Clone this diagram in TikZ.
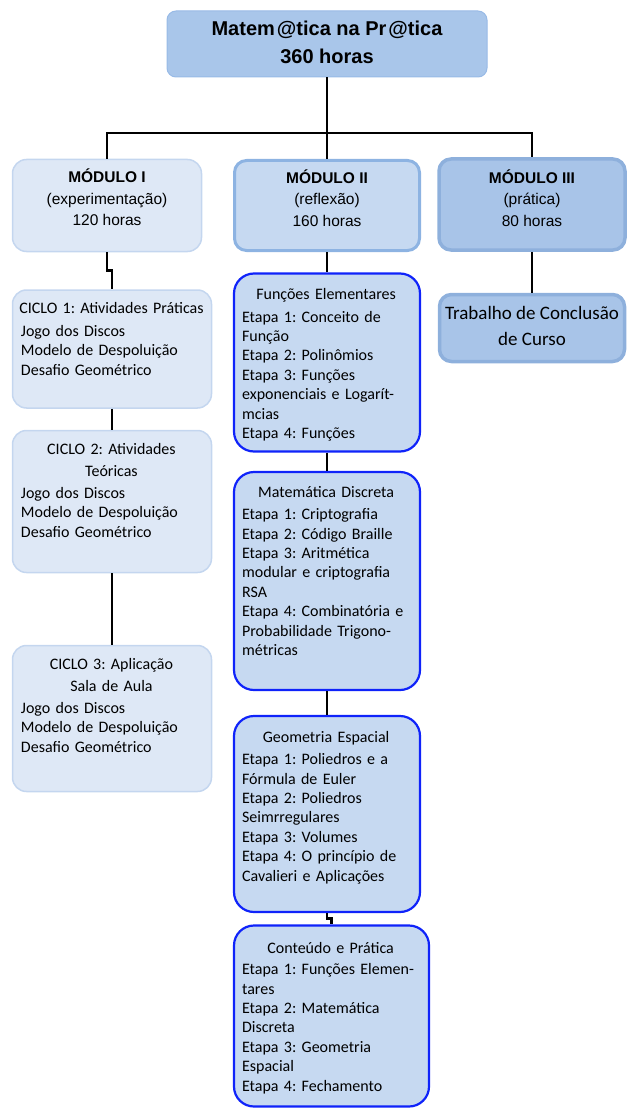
\documentclass[tikz,border=0pt]{standalone}
\usepackage{fontspec}
\setmainfont{Carlito}
\newfontfamily\arialf{Liberation Sans}
\usetikzlibrary{calc}
\frenchspacing
\definecolor{lightfill}{RGB}{222,232,246}
\definecolor{lightdraw}{RGB}{196,214,239}
\definecolor{midfill}{RGB}{198,217,241}
\definecolor{middraw}{RGB}{141,179,226}
\definecolor{darkfill}{RGB}{168,196,232}
\definecolor{darkdraw}{RGB}{142,176,220}
\definecolor{topfill}{RGB}{169,198,234}
\definecolor{topdraw}{RGB}{152,186,230}
\definecolor{bluedraw}{RGB}{15,35,250}
\newcommand\ctitle[1]{\makebox[\linewidth][c]{#1}}
\newcommand\fl{\rule{0pt}{14pt}}
\newcommand\fm{\rule{0pt}{16pt}}
\tikzset{
  conn/.style={draw=black, line width=2.7pt},
  lightbox/.style={rectangle, rounded corners=14pt, fill=lightfill, draw=lightdraw, line width=1.5pt, inner sep=0pt},
  modbox/.style={rectangle, rounded corners=12pt, fill=midfill, draw=middraw, line width=3pt, inner sep=0pt},
  darkbox/.style={rectangle, rounded corners=12pt, fill=darkfill, draw=darkdraw, line width=3.5pt, inner sep=0pt},
  bluebox/.style={rectangle, rounded corners=20pt, fill=midfill, draw=bluedraw, line width=2.2pt, inner sep=0pt},
  bodytxt/.style={anchor=north west, inner sep=0pt, align=left, font=\fontsize{16}{19.4}\selectfont},
  modtxt/.style={anchor=north, inner sep=0pt, align=center, font=\arialf\fontsize{15.5}{21.5}\selectfont},
}
\begin{document}
\begin{tikzpicture}[x=1pt,y=-1pt]
\useasboundingbox (0,0) rectangle (627,1110);
% boxes
\node[rectangle, rounded corners=9pt, fill=topfill, draw=topdraw, line width=1pt,
      minimum width=320pt, minimum height=66pt, inner sep=0pt] (top) at (327,44) {};
\node[lightbox, minimum width=189pt, minimum height=92pt] (m1) at (107,205.5) {};
\node[modbox, minimum width=185pt, minimum height=90pt] (m2) at (327,205.5) {};
\node[darkbox, minimum width=186pt, minimum height=91pt] (m3) at (532,204.5) {};

\node[lightbox, minimum width=199pt, minimum height=118pt] (c1) at (112,349) {};
\node[lightbox, minimum width=199pt, minimum height=142pt] (c2) at (112,501.5) {};
\node[lightbox, minimum width=199pt, minimum height=146pt] (c3) at (112,718.5) {};

\node[bluebox, minimum width=186pt, minimum height=178pt] (f1) at (327,362.5) {};
\node[bluebox, minimum width=186pt, minimum height=218pt] (f2) at (327,581) {};
\node[bluebox, minimum width=186pt, minimum height=196pt] (f3) at (327,814) {};
\node[bluebox, minimum width=195pt, minimum height=181pt] (f4) at (331.5,1016) {};

\node[darkbox, minimum width=185pt, minimum height=67pt] (tcc) at (532,328) {};

% texts
\node[anchor=north, inner sep=0pt, align=center,
      font=\arialf\bfseries\fontsize{20}{28}\selectfont] (topt) at ([yshift=-9pt]top.north)
      {\fm Matem\kern2pt@tica na Pr\kern2pt@tica\\360 horas};
\node[modtxt] (m1t) at ([yshift=-8pt]m1.north) {\fm\textbf{MÓDULO I}\\(experimentação)\\120 horas};
\node[modtxt] (m2t) at ([yshift=-8pt]m2.north) {\fm\textbf{MÓDULO II}\\(reflexão)\\160 horas};
\node[modtxt] (m3t) at ([yshift=-10pt]m3.north) {\fm\textbf{MÓDULO III}\\(prática)\\80 horas};
\node[anchor=north, inner sep=0pt, align=center, font=\fontsize{19}{26}\selectfont]
      (tcct) at ([yshift=-11pt]tcc.north) {\fm Trabalho de Conclusão\\de Curso};

\node[bodytxt, text width=181pt] (c1t) at ([xshift=9pt,yshift=-10pt]c1.north west)
  {\fl\ctitle{CICLO 1: Atividades Práticas}\\[3.6pt]Jogo dos Discos\\Modelo de Despoluição\\Desafio Geométrico};
\node[bodytxt, text width=181pt] (c2t) at ([xshift=9pt,yshift=-10.5pt]c2.north west)
  {\fl\ctitle{CICLO 2: Atividades}\\[2.6pt]\ctitle{Teóricas}\\[2.6pt]Jogo dos Discos\\Modelo de Despoluição\\Desafio Geométrico};
\node[bodytxt, text width=181pt] (c3t) at ([xshift=9pt,yshift=-10.5pt]c3.north west)
  {\fl\ctitle{CICLO 3: Aplicação}\\[2.6pt]\ctitle{Sala de Aula}\\[2.6pt]Jogo dos Discos\\Modelo de Despoluição\\Desafio Geométrico};

\node[bodytxt, text width=168pt] (f1t) at ([xshift=9pt,yshift=-12.5pt]f1.north west)
  {\fl\ctitle{Funções Elementares}\\[3.6pt]Etapa 1: Conceito de\\Função\\Etapa 2: Polinômios\\Etapa 3: Funções\\exponenciais e Logarít-\\mcias\\Etapa 4: Funções};
\node[bodytxt, text width=168pt] (f2t) at ([xshift=9pt,yshift=-12.5pt]f2.north west)
  {\fl\ctitle{Matemática Discreta}\\[2.6pt]Etapa 1: Criptografia\\Etapa 2: Código Braille\\Etapa 3: Aritmética\\modular e criptografia\\RSA\\Etapa 4: Combinatória e\\Probabilidade Trigono-\\métricas};
\node[bodytxt, text width=168pt] (f3t) at ([xshift=9pt,yshift=-13.5pt]f3.north west)
  {\fl\ctitle{Geometria Espacial}\\[2.6pt]Etapa 1: Poliedros e a\\Fórmula de Euler\\Etapa 2: Poliedros\\Seimrregulares\\Etapa 3: Volumes\\Etapa 4: O princípio de\\Cavalieri e Aplicações};
\node[bodytxt, text width=177pt] (f4t) at ([xshift=9pt,yshift=-14.5pt]f4.north west)
  {\fl\ctitle{Conteúdo e Prática}\\[2.2pt]Etapa 1: Funções Elemen-\\tares\\Etapa 2: Matemática\\Discreta\\Etapa 3: Geometria\\Espacial\\Etapa 4: Fechamento};

% connectors
\coordinate (bus) at (0,133);
\draw[conn] (top.south) -- (m2.north);
\draw[conn] (m1.north) |- (bus -| m3.north) -- (m3.north);
\draw[conn] (m1.south) |- ($(m1.south)!0.5!(c1.north)$) -| (c1.north);
\draw[conn] (c1.south) -- (c2.north);
\draw[conn] (c2.south) -- (c3.north);
\draw[conn] (m2.south) -- (f1.north);
\draw[conn] (f1.south) -- (f2.north);
\draw[conn] (f2.south) -- (f3.north);
\draw[conn] (f3.south) |- ($(f3.south)!0.5!(f4.north)$) -| (f4.north);
\draw[conn] (m3.south) -- (tcc.north);
\end{tikzpicture}
\end{document}
